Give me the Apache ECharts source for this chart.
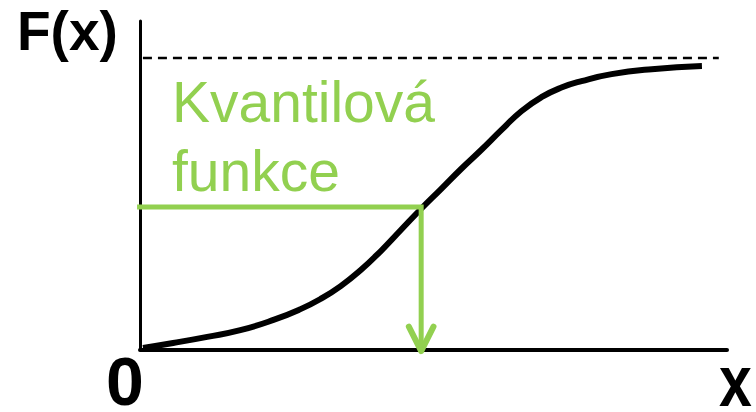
<!DOCTYPE html>
<html>
<head>
<meta charset="utf-8">
<script src="https://cdn.jsdelivr.net/npm/echarts@6/dist/echarts.min.js"></script>
<style>html,body{margin:0;padding:0;background:#fff;}#c{width:756px;height:412px;}</style>
</head>
<body>
<div id="c"></div>
<script>
// CDF curve sample points (x, F(x))
const curveX = [0.051, 0.564, 1.145, 1.709, 2.274, 2.735, 3.077, 3.419, 3.761, 4.103, 4.444, 4.786, 5.128, 5.470, 5.812, 6.154, 6.496, 6.838, 7.179, 7.521, 8.034, 8.718, 9.573];
const curveY = [0.007, 0.024, 0.045, 0.068, 0.103, 0.140, 0.175, 0.219, 0.274, 0.339, 0.411, 0.483, 0.551, 0.620, 0.685, 0.753, 0.818, 0.866, 0.899, 0.921, 0.945, 0.962, 0.973];
// Asymptote F(x) = 1
const asymptoteY = 1;
const asymptoteStartX = 0.05;
const asymptoteEndX = 9.86;
// Quantile point
const quantileP = 0.49;
const quantileX = 4.79;
// Labels
const yLabel = 'F(x)';
const xLabel = 'x';
const originLabel = '0';
const annotation = ['Kvantilová', 'funkce'];

const green = '#92D050';
const chart = echarts.init(document.getElementById('c'), null, {renderer: 'svg'});
const curveData = curveX.map((x, i) => [x, curveY[i]]);
const option = {
  animation: false,
  backgroundColor: '#fff',
  grid: {left: 140, right: 29, top: 21, bottom: 62},
  xAxis: {
    type: 'value', min: 0, max: 10,
    axisLine: {show: true, lineStyle: {color: '#000', width: 4}},
    axisTick: {show: false}, axisLabel: {show: false}, splitLine: {show: false}
  },
  yAxis: {
    type: 'value', min: 0, max: 1.127,
    axisLine: {show: true, lineStyle: {color: '#000', width: 3}},
    axisTick: {show: false}, axisLabel: {show: false}, splitLine: {show: false}
  },
  series: [
    {
      type: 'line', data: [[asymptoteStartX, asymptoteY], [asymptoteEndX, asymptoteY]],
      symbol: 'none', silent: true,
      lineStyle: {color: '#000', width: 2.5, type: [9, 6]}
    },
    {
      type: 'line', data: curveData, smooth: 0.5, symbol: 'none', silent: true,
      lineStyle: {color: '#000', width: 6, join: 'round'}
    },
    {
      type: 'line', data: [[-0.05, quantileP], [quantileX, quantileP], [quantileX, 0.0]],
      symbol: 'none', silent: true, clip: false,
      lineStyle: {color: green, width: 5, join: 'miter', cap: 'butt'}
    },
    {
      type: 'line', data: [[quantileX - 0.21, 0.08], [quantileX, -0.004], [quantileX + 0.21, 0.08]],
      symbol: 'none', silent: true, clip: false,
      lineStyle: {color: green, width: 6, join: 'round', cap: 'round'}
    }
  ],
  graphic: [
    {type: 'text', left: 17, top: 3, style: {text: yLabel, font: 'bold 55px "Liberation Sans", Arial, sans-serif', fill: '#000'}},
    {type: 'text', x: 106, y: 350, style: {text: originLabel, font: 'bold 68px "Liberation Sans", Arial, sans-serif', lineHeight: 62, fill: '#000'}},
    {type: 'text', x: 719, y: 351, scaleX: 0.82, style: {text: xLabel, font: 'bold 72px "Liberation Sans", Arial, sans-serif', lineHeight: 60, fill: '#000'}},
    {type: 'text', left: 172, top: 73, style: {text: annotation[0], font: '57px "Liberation Sans", Arial, sans-serif', fill: green}},
    {type: 'text', left: 172, top: 142, style: {text: annotation[1], font: '57px "Liberation Sans", Arial, sans-serif', fill: green}}
  ]
};
chart.setOption(option);
</script>
</body>
</html>
